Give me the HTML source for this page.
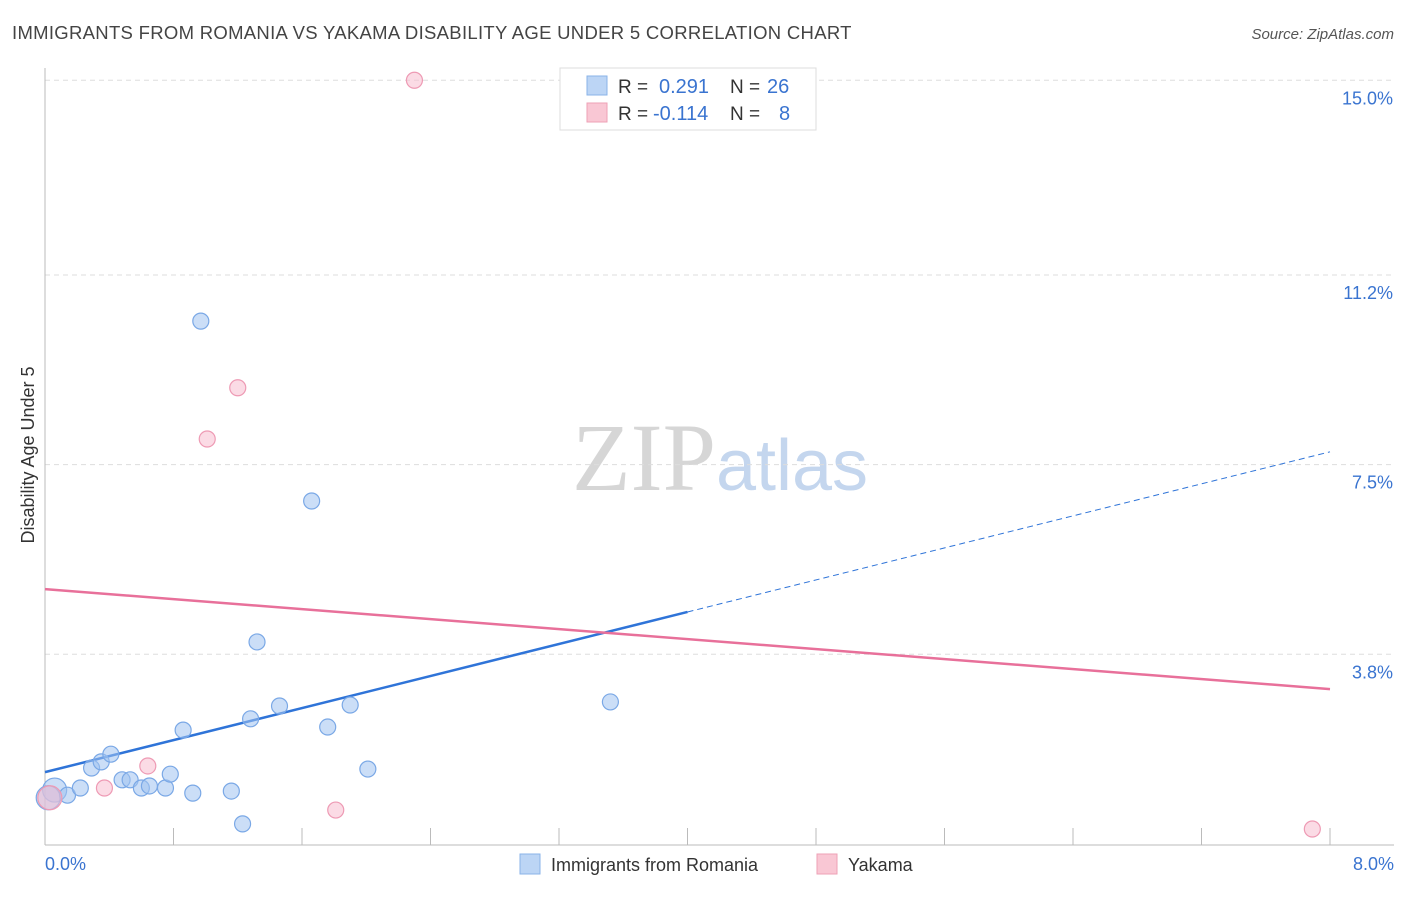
<!DOCTYPE html>
<html><head><meta charset="utf-8"><style>
body{margin:0;background:#fff;font-family:"Liberation Sans",sans-serif;}
svg text{font-family:"Liberation Sans",sans-serif;}
</style></head><body>
<svg id="chart" width="1406" height="892" xmlns="http://www.w3.org/2000/svg">
<text x="12" y="39" font-size="18.5" letter-spacing="0.3" fill="#444">IMMIGRANTS FROM ROMANIA VS YAKAMA DISABILITY AGE UNDER 5 CORRELATION CHART</text>
<text x="1394" y="39" font-size="15" font-style="italic" fill="#555" text-anchor="end">Source: ZipAtlas.com</text>
<text x="720" y="490" font-size="96" text-anchor="middle"><tspan fill="#d6d6d6" font-family="Liberation Serif">ZIP</tspan><tspan fill="#c4d6ee" font-size="72">atlas</tspan></text>
<text transform="translate(34,455) rotate(-90)" font-size="18" fill="#333" text-anchor="middle">Disability Age Under 5</text>
<g id="grid"></g><g id="axes"></g><g id="lines"></g><g id="points"></g>
<g>
<rect x="560" y="68" width="256" height="62" fill="#fff" stroke="#ddd"/>
<rect x="587" y="76" width="20" height="19" fill="#bcd5f5" stroke="#8ab3e8"/>
<text x="618" y="93" font-size="19" fill="#333">R = </text><text x="659" y="93" font-size="20" fill="#3a74d0">0.291</text>
<text x="730" y="93" font-size="19" fill="#333">N = </text><text x="767" y="93" font-size="20" fill="#3a74d0">26</text>
<rect x="587" y="103" width="20" height="19" fill="#f9c7d4" stroke="#eea0b6"/>
<text x="618" y="120" font-size="19" fill="#333">R = </text><text x="653" y="120" font-size="20" fill="#3a74d0">-0.114</text>
<text x="730" y="120" font-size="19" fill="#333">N = </text><text x="779" y="120" font-size="20" fill="#3a74d0">8</text>
</g>
<g>
<rect x="520" y="854" width="20" height="20" fill="#bcd5f5" stroke="#8ab3e8"/>
<text x="551" y="871" font-size="18" fill="#333">Immigrants from Romania</text>
<rect x="817" y="854" width="20" height="20" fill="#f9c7d4" stroke="#eea0b6"/>
<text x="848" y="871" font-size="18" fill="#333">Yakama</text>
</g>
</svg>
<script>
const yTicks=[15.0,11.2,7.5,3.8];
const yTickLabels=["15.0%","11.2%","7.5%","3.8%"];
const xTickLabels=["0.0%","8.0%"];
const romaniaX=[0.06,0.14,0.22,0.29,0.35,0.41,0.48,0.53,0.60,0.65,0.75,0.78,0.86,0.92,0.97,1.16,1.23,1.28,1.32,1.46,1.66,1.76,1.90,2.01,3.52,0.02];
const romaniaY=[1.15,1.05,1.19,1.58,1.70,1.85,1.35,1.35,1.19,1.23,1.19,1.46,2.32,1.09,10.30,1.13,0.49,2.54,4.04,2.79,6.79,2.38,2.81,1.56,2.87,1.0];
const yakamaX=[0.03,0.37,0.64,1.01,1.20,1.81,2.30,7.89];
const yakamaY=[1.0,1.19,1.62,8.0,9.0,0.76,15.0,0.39];
const romaniaTrend=[1.50,7.75];
const yakamaTrend=[5.07,3.12];
const NS="http://www.w3.org/2000/svg";
const X=v=>45+v*1285/8;
const Y=v=>849-v*51.25;
function mk(parent,tag,attrs){const e=document.createElementNS(NS,tag);for(const k in attrs)e.setAttribute(k,attrs[k]);document.getElementById(parent).appendChild(e);return e;}
yTicks.forEach((t,i)=>{
 const l=mk('grid','line',{x1:45,x2:1394,y1:Y(t),y2:Y(t),stroke:'#ddd','stroke-dasharray':'5,4'});
 
 
 const tx=mk('grid','text',{x:1393,y:Y(t)+24,'font-size':18,fill:'#3a74d0','text-anchor':'end'});
 tx.textContent=yTickLabels[i];
 
 
});
const ax=mk('axes','line',{x1:45,x2:45,y1:68,y2:845,stroke:'#bbb'});


const bx=mk('axes','line',{x1:45,x2:1394,y1:845,y2:845,stroke:'#bbb'});


for(let i=1;i<=10;i++){const t=mk('axes','line',{x1:X(i*0.8),x2:X(i*0.8),y1:828,y2:845,stroke:'#bbb'});
 
 }
[[0,'start',45],[8,'end',1394]].forEach((d,i)=>{const t=mk('axes','text',{x:d[2],y:870,'font-size':18,fill:'#3a74d0','text-anchor':d[1]});t.textContent=xTickLabels[i];
 
 });
const mid=4.0, rAt=x=>romaniaTrend[0]+(romaniaTrend[1]-romaniaTrend[0])*x/8;
let l1=mk('lines','line',{x1:X(0),y1:Y(rAt(0)),x2:X(mid),y2:Y(rAt(mid)),stroke:'#2f74d8','stroke-width':2.5});


let l2=mk('lines','line',{x1:X(mid),y1:Y(rAt(mid)),x2:X(8),y2:Y(rAt(8)),stroke:'#2f74d8','stroke-width':1,'stroke-dasharray':'6,4'});


let l3=mk('lines','line',{x1:X(0),y1:Y(yakamaTrend[0]),x2:X(8),y2:Y(yakamaTrend[1]),stroke:'#e8709a','stroke-width':2.5});


romaniaX.forEach((x,i)=>{const c=mk('points','circle',{cx:X(x),cy:Y(romaniaY[i]),r:(i==25||i==0)?12:8,fill:'rgba(160,195,240,0.55)',stroke:'#7aa8e6','stroke-width':1.2});
 
 });
yakamaX.forEach((x,i)=>{const c=mk('points','circle',{cx:X(x),cy:Y(yakamaY[i]),r:i==0?12:8,fill:'rgba(248,190,208,0.55)',stroke:'#ee9ab4','stroke-width':1.2});
 
 });
</script>
</body></html>
